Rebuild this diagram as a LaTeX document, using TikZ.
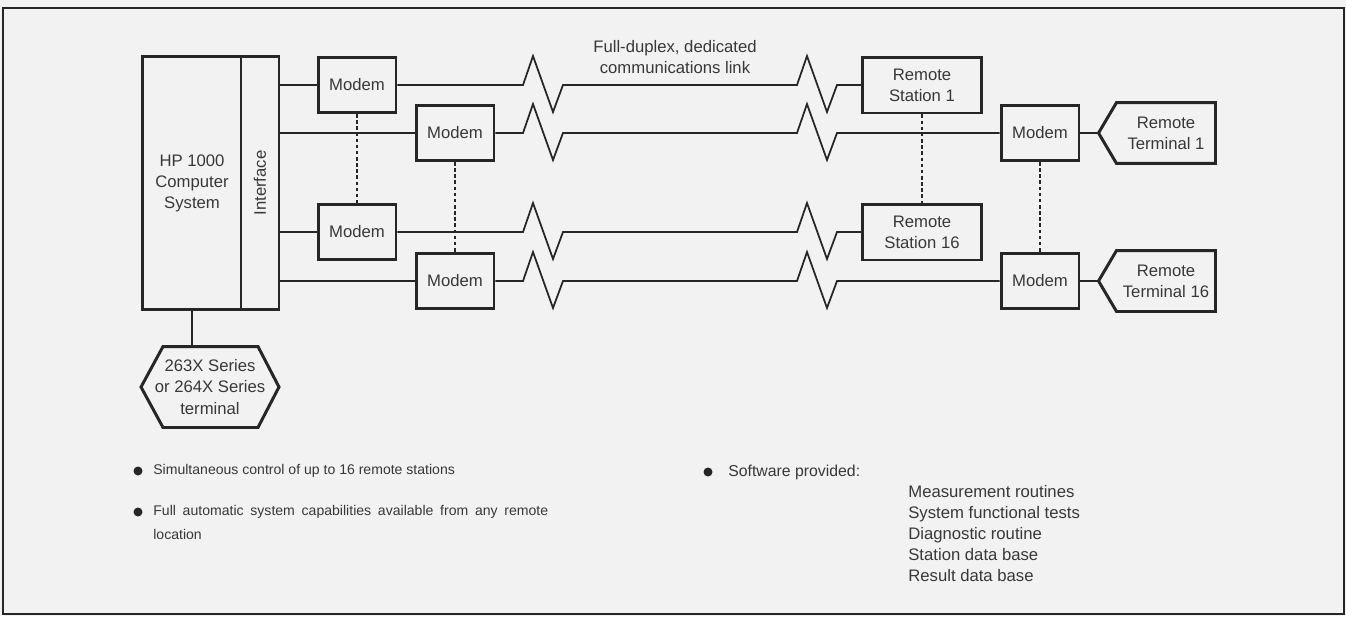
\documentclass[tikz,border=0pt]{standalone}
\usepackage{fontspec}
\setmainfont{Liberation Sans}
\colorlet{ink}{black!85}
\colorlet{paper}{black!5}
\colorlet{words}{black!78}

\begin{document}
\begin{tikzpicture}[x=0.02cm, y=-0.02cm,
        box/.style={draw=ink, line width=1.7pt, fill=paper, text=words, font=\fontsize{9.5}{12}\selectfont, align=center, inner sep=0pt},
        modembox/.style={box, minimum width=1.56cm, minimum height=1.1cm},
        stationbox/.style={box, minimum width=2.38cm, minimum height=1.12cm},
        openbox/.style={box, draw=none, fill=none},
        outline/.style={draw=ink, line width=1.7pt, line join=miter},
        wire/.style={draw=ink, line width=1pt},
        dots/.style={draw=ink, line width=1pt, dash pattern=on 2pt off 1.5pt},
        bullet/.style={circle, fill=ink, inner sep=0pt, minimum size=0.18cm},
        note/.style={text=words, font=\fontsize{8}{11}\selectfont, anchor=west, inner sep=0pt}]
        \fill[paper] (0,0) rectangle (1346,616);
        \draw[ink, line width=1.4pt] (3,8) rectangle (1344,614);

        % host end
        \node[box, minimum width=2cm, minimum height=5.08cm] (host) at (192,183) {HP 1000\\Computer\\System};
        \node[box, minimum width=0.76cm, minimum height=5.08cm] (iface) at (260,183) {\rotatebox{90}{Interface}};
        \node[openbox, minimum width=2.7cm, minimum height=1.56cm] (crt) at (210,387) {263X Series\\or 264X Series\\terminal};
        \draw[outline] (crt.west) -- ([xshift=0.44cm]crt.north west) -- ([xshift=-0.42cm]crt.north east)
            -- (crt.east) -- ([xshift=-0.42cm]crt.south east) -- ([xshift=0.44cm]crt.south west) -- cycle;
        \draw[wire] (host.south) -- (host.south |- crt.north);

        \node[modembox] (m1) at (357,85) {Modem};
        \node[modembox] (m2) at (455,133) {Modem};
        \node[modembox] (m3) at (357,232) {Modem};
        \node[modembox] (m4) at (455,281) {Modem};

        % far end
        \node[stationbox] (st1) at (922,85) {Remote\\Station 1};
        \node[stationbox] (st16) at (922,232) {Remote\\Station 16};
        \node[modembox] (rm1) at (1040,133) {Modem};
        \node[modembox] (rm16) at (1040,281) {Modem};
        \node[openbox, minimum width=1.92cm, minimum height=1.16cm] (rt1) at (1166,133) {Remote\\Terminal 1};
        \node[openbox, minimum width=1.92cm, minimum height=1.16cm] (rt16) at (1166,281) {Remote\\Terminal 16};
        \foreach \t in {rt1,rt16}
        {
            \coordinate (\t-tip) at ([xshift=-0.36cm]\t.west);
            \draw[outline] (\t.north west) -- (\t.north east) -- (\t.south east) -- (\t.south west) -- (\t-tip) -- cycle;
        }

        \node[text=words, font=\fontsize{9.5}{12}\selectfont, align=center] (linklabel) at (675,57) {Full-duplex, dedicated\\communications link};

        % links with break marks
        \foreach \a/\b/\ya in {m1/st1/85, m2/rm1/133, m3/st16/232, m4/rm16/281}
        {
            \draw[wire] (iface.east |- \a.west) -- (\a.west);
            \draw[wire] (\a.east) -- (523,\ya) -- ++(10,-29) -- ++(20,56) -- ++(10,-27)
                -- (797,\ya) -- ++(10,-29) -- ++(20,56) -- ++(10,-27) -- (\b.west);
        }
        \draw[wire] (rm1.east) -- (rt1-tip);
        \draw[wire] (rm16.east) -- (rt16-tip);

        \draw[dots] (m1.south) -- (m3.north);
        \draw[dots] (m2.south) -- (m4.north);
        \draw[dots] (st1.south) -- (st16.north);
        \draw[dots] (rm1.south) -- (rm16.north);

        % notes
        \node[bullet] (b1) at (138,471) {};
        \node[note] (n1) at (153,471) {Simultaneous control of up to 16 remote stations};
        \node[bullet] (b2) at (138,512) {};
        \node[note] (n2) at (153,512) {\makebox[7.9cm][s]{Full automatic system capabilities available from any remote}};
        \node[note] (n2b) at (153,534) {location};
        \node[bullet] (b3) at (708,472) {};
        \node[note, font=\fontsize{9}{11}\selectfont] (n3) at (728,472) {Software provided:};
        \foreach \entry [count=\i from 0] in {Measurement routines, System functional tests, Diagnostic routine, Station data base, Result data base}
        {
            \node[note, anchor=base west, font=\fontsize{9.5}{12}\selectfont] (sw\i) at (908,497+21*\i) {\entry};
        }
    \end{tikzpicture}
\end{document}
